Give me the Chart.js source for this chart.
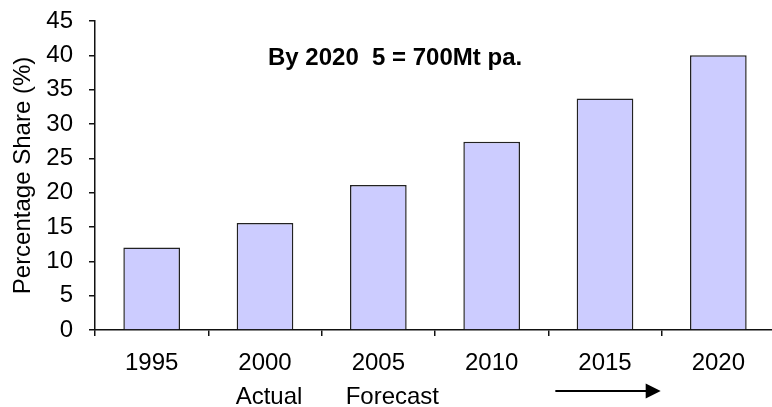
<!DOCTYPE html>
<html>
<head>
<meta charset="utf-8">
<script src="https://cdn.jsdelivr.net/npm/chart.js@4.4.1/dist/chart.umd.min.js"></script>
<style>
  html, body { margin: 0; padding: 0; background: #fff; overflow: hidden; }
  #wrap { width: 775px; height: 407px; }
</style>
</head>
<body>
<div id="wrap"><canvas id="share-chart" width="775" height="407"></canvas></div>
<script>
// Chart data
const years = ['1995', '2000', '2005', '2010', '2015', '2020'];
const shareValues = [12, 15.6, 21.1, 27.4, 33.7, 40];
const yTicks = [0, 5, 10, 15, 20, 25, 30, 35, 40, 45];
const noteText = 'By 2020  5 = 700Mt pa.';
const actualLabel = 'Actual';
const forecastLabel = 'Forecast';

const FONT = "Arial, 'Liberation Sans', sans-serif";
const INK = '#111';

// Extra texts and the forecast arrow under the axis
const notesPlugin = {
    id: 'notes',
    afterDraw(chart) {
        const ctx = chart.ctx;
        const x = chart.scales.x;
        const y = chart.scales.y;
        const bottom = chart.chartArea.bottom;
        ctx.save();
        ctx.fillStyle = '#000';
        ctx.textBaseline = 'middle';

        ctx.font = 'bold 24px ' + FONT;
        ctx.textAlign = 'left';
        ctx.fillText(noteText, x.getPixelForValue(1) + 3, y.getPixelForValue(39.6));

        ctx.font = '24px ' + FONT;
        ctx.textAlign = 'center';
        ctx.fillText(actualLabel, x.getPixelForValue(1) + 4, bottom + 67);
        ctx.fillText(forecastLabel, x.getPixelForValue(2) + 14, bottom + 67);

        // arrow
        const half = (x.getPixelForValue(1) - x.getPixelForValue(0)) / 2;
        const x0 = x.getPixelForValue(3) + half + 7;
        const x1 = x.getPixelForValue(4) + half - 1;
        const ay = bottom + 61;
        ctx.strokeStyle = '#000';
        ctx.lineWidth = 2;
        ctx.beginPath();
        ctx.moveTo(x0, ay);
        ctx.lineTo(x1 - 14, ay);
        ctx.stroke();
        ctx.beginPath();
        ctx.moveTo(x1, ay);
        ctx.lineTo(x1 - 15, ay - 7.5);
        ctx.lineTo(x1 - 15, ay + 7.5);
        ctx.closePath();
        ctx.fill();
        ctx.restore();
    }
};

function noScalePadding(s) {
    s.paddingTop = 0;
    s.paddingBottom = 0;
    s.paddingLeft = 0;
    s.paddingRight = 0;
}

const ctx = document.getElementById('share-chart');
new Chart(ctx, {
    type: 'bar',
    data: {
        labels: years,
        datasets: [{
            data: shareValues,
            backgroundColor: '#ccccff',
            borderColor: '#222',
            borderWidth: 1.5,
            categoryPercentage: 1,
            barPercentage: 0.5
        }]
    },
    options: {
        responsive: false,
        animation: false,
        layout: { padding: { top: 21, left: 0, right: 0, bottom: 0 } },
        plugins: {
            legend: { display: false },
            tooltip: { enabled: false }
        },
        scales: {
            x: {
                grid: {
                    offset: true,
                    drawOnChartArea: false,
                    tickLength: 6,
                    color: INK,
                    lineWidth: 1.5
                },
                border: { color: INK, width: 1.5 },
                ticks: {
                    color: '#000',
                    padding: 13,
                    font: { family: FONT, size: 24 },
                    maxRotation: 0
                },
                afterFit: (s) => { s.height = 77; noScalePadding(s); }
            },
            y: {
                min: 0,
                max: 45,
                afterBuildTicks: (s) => { s.ticks = yTicks.map(v => ({ value: v })); },
                grid: {
                    drawOnChartArea: false,
                    tickLength: 6,
                    color: INK,
                    lineWidth: 1.5
                },
                border: { color: INK, width: 1.5 },
                ticks: {
                    color: '#000',
                    padding: 16,
                    font: { family: FONT, size: 24 }
                },
                title: {
                    display: true,
                    text: 'Percentage Share (%)',
                    color: '#000',
                    font: { family: FONT, size: 24 },
                    padding: { top: 9, bottom: 0 }
                },
                afterFit: (s) => { s.width = 95; noScalePadding(s); }
            }
        }
    },
    plugins: [notesPlugin]
});
</script>
</body>
</html>
